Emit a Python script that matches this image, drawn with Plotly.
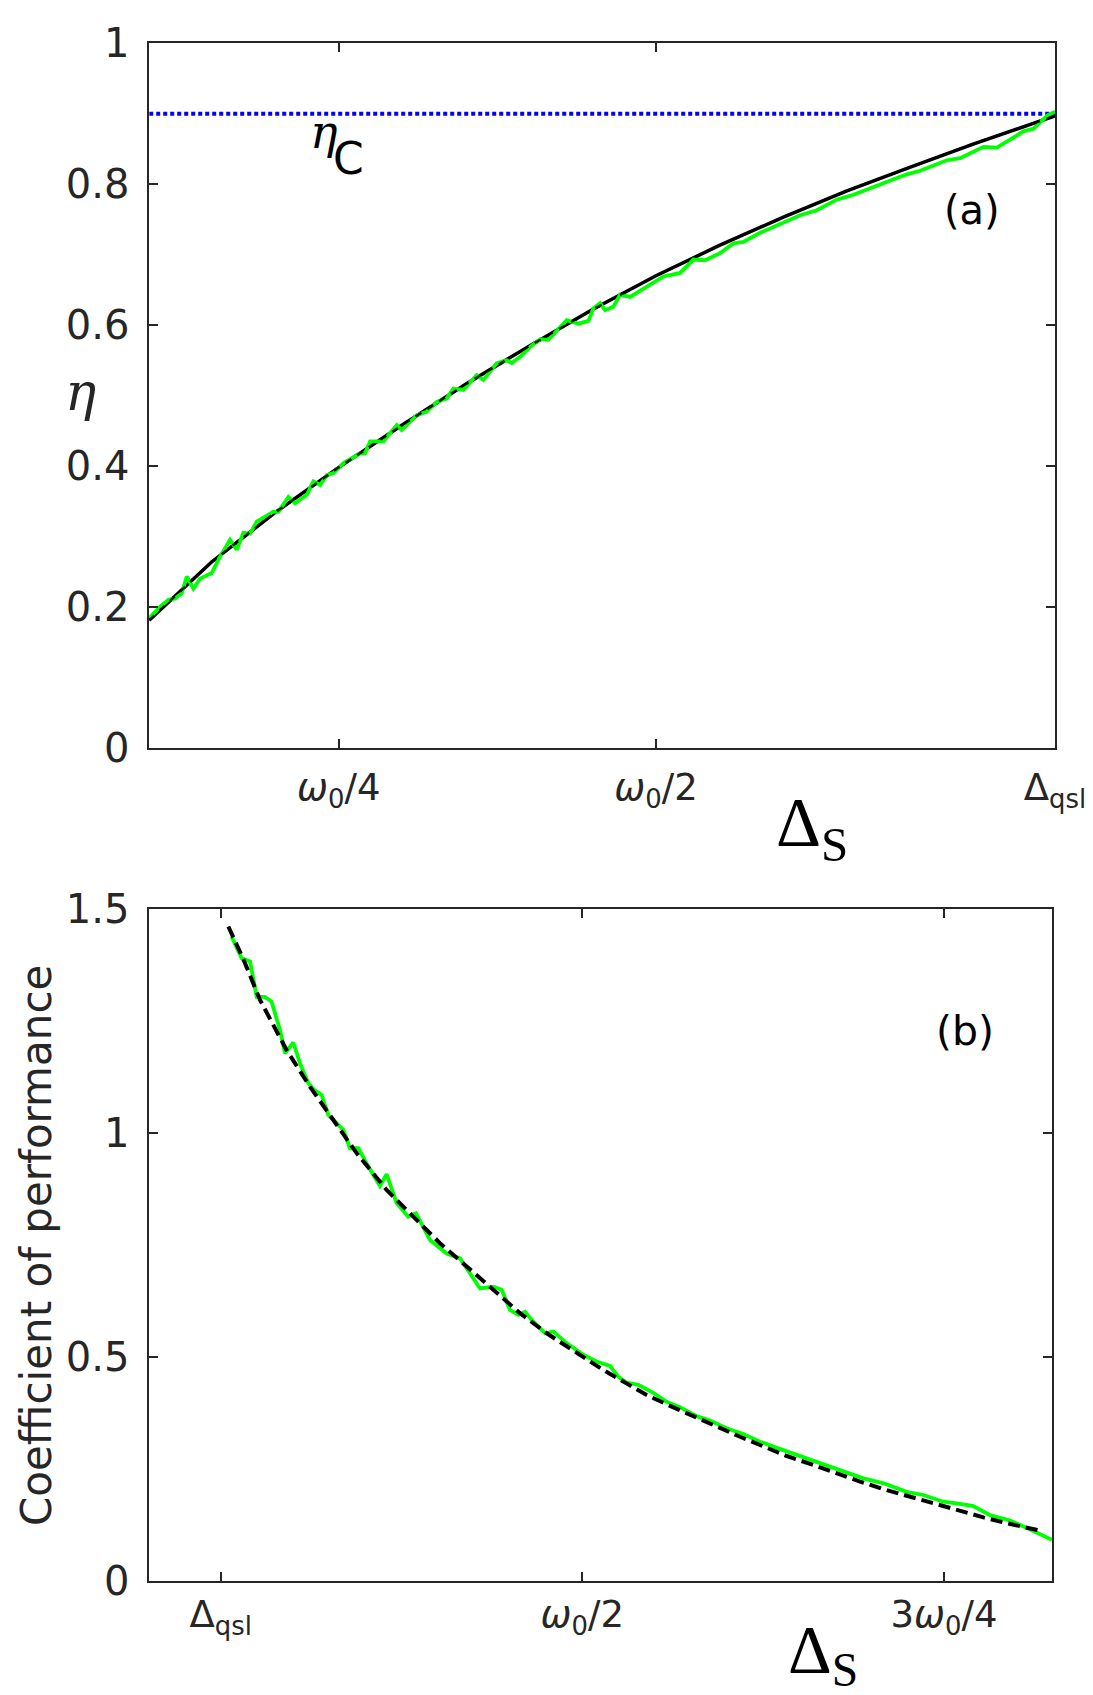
import plotly.graph_objects as go

W, H = 1093, 1695

# ---------------- panel (a) data ----------------
a_xrange = [0.1006, 0.8145]
a_eta_carnot = 0.9
a_theory_x = [0.1006, 0.15, 0.2, 0.25, 0.3, 0.35, 0.4, 0.45, 0.5, 0.55, 0.6, 0.65, 0.7, 0.75, 0.8145]
a_theory_eta = [0.181, 0.264, 0.334, 0.398, 0.458, 0.516, 0.570, 0.622, 0.670, 0.713, 0.753, 0.790, 0.824, 0.857, 0.897]
a_sim_x = [0.1006, 0.1091, 0.1157, 0.1210, 0.1262, 0.1302, 0.1354, 0.1407, 0.1499, 0.1551,
           0.1643, 0.1696, 0.1748, 0.1801, 0.1853, 0.1985, 0.2024, 0.2103, 0.2156, 0.2248,
           0.2300, 0.2353, 0.2405, 0.2458, 0.2537, 0.2668, 0.2707, 0.2747, 0.2852, 0.2957,
           0.2996, 0.3115, 0.3193, 0.3272, 0.3351, 0.3403, 0.3482, 0.3587, 0.3640, 0.3745,
           0.3824, 0.3863, 0.3929, 0.4008, 0.4087, 0.4152, 0.4297, 0.4389, 0.4468, 0.4507,
           0.4560, 0.4599, 0.4665, 0.4717, 0.4796, 0.4927, 0.5059, 0.5190, 0.5295, 0.5387,
           0.5505, 0.5610, 0.5689, 0.5821, 0.5978, 0.6136, 0.6267, 0.6425, 0.6556, 0.6687,
           0.6819, 0.6976, 0.7082, 0.7187, 0.7292, 0.7397, 0.7502, 0.7581, 0.7686, 0.7765,
           0.7843, 0.7894, 0.7978, 0.8034, 0.8089, 0.8145]
a_sim_eta = [0.184, 0.200, 0.210, 0.212, 0.219, 0.243, 0.226, 0.240, 0.248, 0.267,
             0.295, 0.281, 0.305, 0.304, 0.321, 0.335, 0.335, 0.356, 0.347, 0.359,
             0.378, 0.373, 0.387, 0.390, 0.404, 0.418, 0.418, 0.435, 0.435, 0.458,
             0.451, 0.472, 0.477, 0.491, 0.496, 0.510, 0.508, 0.529, 0.522, 0.546,
             0.550, 0.546, 0.555, 0.569, 0.580, 0.579, 0.607, 0.602, 0.606, 0.624,
             0.631, 0.621, 0.626, 0.643, 0.640, 0.655, 0.669, 0.674, 0.693, 0.692,
             0.702, 0.716, 0.718, 0.731, 0.744, 0.756, 0.763, 0.778, 0.785, 0.794,
             0.804, 0.814, 0.819, 0.827, 0.834, 0.837, 0.846, 0.853, 0.852, 0.860,
             0.869, 0.875, 0.879, 0.889, 0.898, 0.903]
a_tickvals_x = [0.25, 0.5, 0.8145]
a_ticktext_x = ["<i>ω</i><sub>0</sub>/4", "<i>ω</i><sub>0</sub>/2", "Δ<sub>qsl</sub>"]
a_tickvals_y = [0, 0.2, 0.4, 0.6, 0.8, 1]

# ---------------- panel (b) data ----------------
b_xrange = [0.2006, 0.8247]
b_theory_x = [0.2553, 0.2657, 0.2772, 0.2956, 0.3118, 0.3279, 0.3440, 0.3647, 0.3832, 0.4016,
              0.4201, 0.4385, 0.4569, 0.4754, 0.5, 0.5145, 0.5284, 0.5445, 0.5606, 0.5768,
              0.5929, 0.6090, 0.6252, 0.6413, 0.6597, 0.6759, 0.6920, 0.7081, 0.7266, 0.7427,
              0.7611, 0.7773, 0.7934, 0.817]
b_theory_cop = [1.461, 1.388, 1.297, 1.185, 1.103, 1.029, 0.955, 0.873, 0.813, 0.754,
                0.702, 0.650, 0.598, 0.553, 0.501, 0.471, 0.445, 0.415, 0.391, 0.367,
                0.345, 0.322, 0.300, 0.279, 0.259, 0.240, 0.222, 0.205, 0.188, 0.172,
                0.157, 0.142, 0.129, 0.112]
b_sim_x = [0.2576, 0.2645, 0.2703, 0.2749, 0.2806, 0.2852, 0.2910, 0.2945, 0.3002, 0.3048,
           0.3106, 0.3152, 0.3198, 0.3244, 0.3348, 0.3394, 0.3452, 0.3509, 0.3601, 0.3647,
           0.3717, 0.3797, 0.3850, 0.3947, 0.4062, 0.4155, 0.4293, 0.4385, 0.4443, 0.4500,
           0.4558, 0.4604, 0.4661, 0.4742, 0.4800, 0.4892, 0.5007, 0.5099, 0.5191, 0.5249,
           0.5307, 0.5387, 0.5491, 0.5583, 0.5675, 0.5791, 0.5883, 0.5998, 0.6113, 0.6229,
           0.6321, 0.6436, 0.6574, 0.6690, 0.6828, 0.6943, 0.7084, 0.7243, 0.7358, 0.7496,
           0.7611, 0.7704, 0.7819, 0.7957, 0.8096, 0.8247]
b_sim_cop = [1.438, 1.390, 1.383, 1.304, 1.304, 1.293, 1.230, 1.178, 1.202, 1.156,
             1.111, 1.095, 1.085, 1.040, 1.007, 0.966, 0.966, 0.932, 0.882, 0.908,
             0.843, 0.813, 0.821, 0.761, 0.731, 0.720, 0.653, 0.657, 0.650, 0.605,
             0.594, 0.601, 0.579, 0.553, 0.557, 0.531, 0.505, 0.490, 0.480, 0.456,
             0.443, 0.438, 0.420, 0.400, 0.388, 0.368, 0.358, 0.341, 0.328, 0.311,
             0.300, 0.287, 0.272, 0.257, 0.242, 0.229, 0.218, 0.199, 0.192, 0.177,
             0.172, 0.167, 0.147, 0.135, 0.115, 0.092]
b_tickvals_x = [0.25, 0.5, 0.75]
b_ticktext_x = ["Δ<sub>qsl</sub>", "<i>ω</i><sub>0</sub>/2", "3<i>ω</i><sub>0</sub>/4"]
b_tickvals_y = [0, 0.5, 1, 1.5]

# ---------------- styling ----------------
AX = "#262626"
GREEN = "#00ff00"
SANS = "DejaVu Sans"
SERIF = "Liberation Serif"


def px(x):
    return x / W


def py(y):
    return 1 - y / H


fig = go.Figure()

fig.add_trace(go.Scatter(x=a_xrange, y=[a_eta_carnot, a_eta_carnot], mode="lines",
                         line=dict(color="#0000ff", width=4, dash="4px,3px"),
                         xaxis="x", yaxis="y", showlegend=False))
fig.add_trace(go.Scatter(x=a_theory_x, y=a_theory_eta, mode="lines",
                         line=dict(color="black", width=3.5),
                         xaxis="x", yaxis="y", showlegend=False))
fig.add_trace(go.Scatter(x=a_sim_x, y=a_sim_eta, mode="lines",
                         line=dict(color=GREEN, width=3.8),
                         xaxis="x", yaxis="y", showlegend=False))
fig.add_trace(go.Scatter(x=a_theory_x, y=a_theory_eta, mode="lines",
                         line=dict(color="black", width=2.5, dash="7px,7px"),
                         opacity=0.85, xaxis="x", yaxis="y", showlegend=False))

fig.add_trace(go.Scatter(x=b_sim_x, y=b_sim_cop, mode="lines",
                         line=dict(color=GREEN, width=3.8),
                         xaxis="x2", yaxis="y2", showlegend=False))
fig.add_trace(go.Scatter(x=b_theory_x, y=b_theory_cop, mode="lines",
                         line=dict(color="black", width=4, dash="12px,6px"),
                         xaxis="x2", yaxis="y2", showlegend=False))

common = dict(showline=True, linecolor=AX, linewidth=1.6, mirror="ticks",
              ticks="inside", ticklen=9, tickwidth=1.6, tickcolor=AX,
              showgrid=False, zeroline=False, automargin=False)

fig.update_layout(
    width=W, height=H, margin=dict(l=0, r=0, t=0, b=0, pad=0), autosize=False,
    paper_bgcolor="white", plot_bgcolor="white",
    xaxis=dict(common, domain=[px(149.2), px(1055)], range=a_xrange, anchor="y",
               tickmode="array", tickvals=a_tickvals_x, ticktext=a_ticktext_x,
               tickfont=dict(family=SANS, size=37, color=AX), ticklabelstandoff=6),
    yaxis=dict(common, domain=[py(747.7), py(43.3)], range=[0, 1], anchor="x",
               tickmode="array", tickvals=a_tickvals_y,
               tickfont=dict(family=SANS, size=40, color=AX), ticklabelstandoff=10),
    xaxis2=dict(common, domain=[px(149.2), px(1052)], range=b_xrange, anchor="y2",
                tickmode="array", tickvals=b_tickvals_x, ticktext=b_ticktext_x,
                tickfont=dict(family=SANS, size=37, color=AX), ticklabelstandoff=0),
    yaxis2=dict(common, domain=[py(1581), py(909)], range=[0, 1.5], anchor="x2",
                tickmode="array", tickvals=b_tickvals_y,
                tickfont=dict(family=SANS, size=40, color=AX), ticklabelstandoff=10),
)

ann = [
    dict(x=px(80), y=py(392), text="<i>η</i>",
         font=dict(family="DejaVu Serif", size=52, color=AX)),
    dict(x=px(324), y=py(132), text="<i>η</i>",
         font=dict(family="DejaVu Serif", size=46, color="black")),
    dict(x=px(348), y=py(158), text="C",
         font=dict(family=SANS, size=44, color="black")),
    dict(x=px(972), y=py(210), text="(a)", font=dict(family=SANS, size=40, color="black")),
    dict(x=px(812), y=py(828), text="Δ<sub>S</sub>",
         font=dict(family=SERIF, size=70, color="black")),
    dict(x=px(36), y=py(1246), text="Coefficient of performance", textangle=-90,
         font=dict(family=SANS, size=42, color=AX)),
    dict(x=px(965), y=py(1031), text="(b)", font=dict(family=SANS, size=41, color="black")),
    dict(x=px(823), y=py(1653), text="Δ<sub>S</sub>",
         font=dict(family=SERIF, size=68, color="black")),
]
for a in ann:
    a.update(xref="paper", yref="paper", showarrow=False, xanchor="center", yanchor="middle")
fig.update_layout(annotations=ann)

fig.write_html(
    "out.html",
    config={"responsive": False},
    post_script="document.body.style.margin='0';document.body.style.padding='0';",
)
